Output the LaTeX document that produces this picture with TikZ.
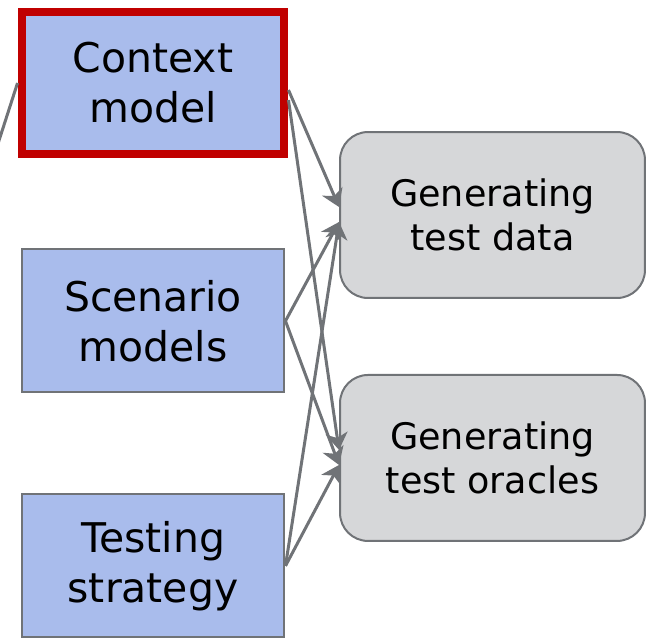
\documentclass[tikz,border=0pt]{standalone}
\usepackage{fontspec}
\setmainfont{DejaVu Sans}
\usepackage{xcolor}
\usepackage{tikz}
\usetikzlibrary{arrows.meta,positioning}

\definecolor{boxblue}{RGB}{169,188,236}
\definecolor{boxgrey}{RGB}{214,215,217}
\definecolor{edgegrey}{RGB}{112,115,119}
\definecolor{ctxred}{RGB}{192,0,0}

\begin{document}
\begin{tikzpicture}[
    x=0.02cm, y=-0.02cm,
    model/.style={draw=edgegrey, line width=0.04cm, fill=boxblue, align=center, minimum width=5.26cm, minimum height=2.86cm, inner sep=0pt, font=\fontsize{23.3}{28.5}\selectfont},
    task/.style={draw=edgegrey, line width=0.04cm, fill=boxgrey, rounded corners=0.56cm, align=center, minimum width=6.1cm, minimum height=3.32cm, inner sep=0pt, font=\fontsize{20.8}{25}\selectfont},
    link/.style={draw=edgegrey, line width=0.06cm},
    arrow/.style={link, -{Stealth[length=0.34cm, width=0.44cm, inset=0.1cm]}}
]
\useasboundingbox (0,0) rectangle (646,637);
\node[model, draw=ctxred, line width=0.16cm] (ctx) at (153,83) {Context\\model};
\node[model, below=1.8cm of ctx] (scen) {Scenario\\models};
\node[model, below=2.0cm of scen] (strat) {Testing\\strategy};
\node[task] (data) at (492.5,215) {Generating\\test data};
\node[task, below=1.5cm of data] (orac) {Generating\\test oracles};
\coordinate (offleft) at (-25,215);
\draw[link] (offleft) -- (ctx.west);
% context arrows leave a little below the centre and arrive higher
\draw[arrow] ([yshift=-0.14cm]ctx.east) -- ([yshift=0.16cm]data.west);
\draw[arrow] ([yshift=-0.34cm]ctx.east) -- ([yshift=0.16cm]orac.west);
\draw[arrow] (scen.east) -- ([yshift=-0.14cm]data.west);
\draw[arrow] (scen.east) -- ([yshift=-0.14cm]orac.west);
\draw[arrow] (strat.east) -- ([yshift=-0.14cm]data.west);
\draw[arrow] (strat.east) -- ([yshift=-0.14cm]orac.west);
\end{tikzpicture}
\end{document}
